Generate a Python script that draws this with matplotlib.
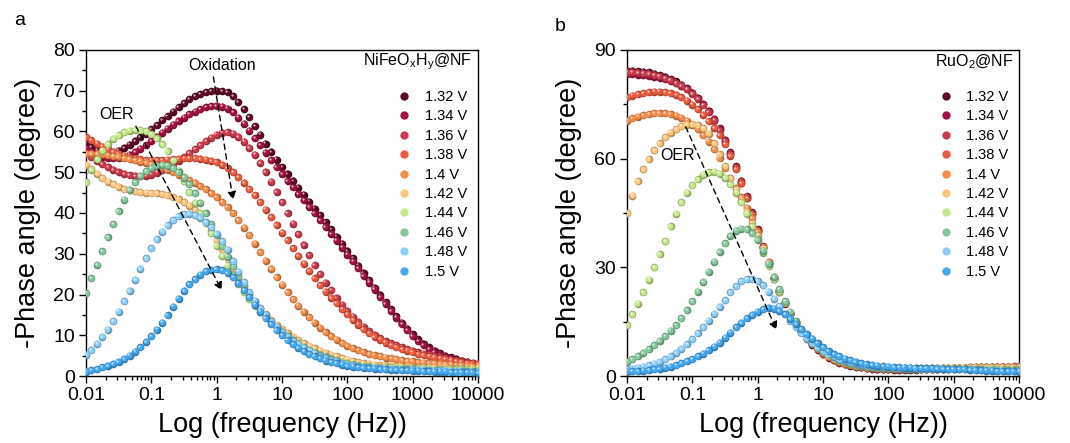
import matplotlib.pyplot as plt
import matplotlib.colors as mcolors
from matplotlib.lines import Line2D
from matplotlib.transforms import offset_copy
from matplotlib.ticker import MultipleLocator, LogLocator, NullFormatter, FixedLocator, FixedFormatter

plt.rcParams['font.family'] = ['Liberation Sans', 'DejaVu Sans']
plt.rcParams['mathtext.fontset'] = 'custom'
plt.rcParams['mathtext.rm'] = 'Liberation Sans'
plt.rcParams['mathtext.it'] = 'Liberation Sans:italic'

# measurement frequencies (Hz), 12 points per decade
freq = [0.01, 0.01212, 0.01468, 0.01778, 0.02154, 0.0261, 0.03162, 0.03831, 0.04642, 0.05623, 0.06813, 0.08254,
        0.1, 0.1212, 0.1468, 0.1778, 0.2154, 0.261, 0.3162, 0.3831, 0.4642, 0.5623, 0.6813, 0.8254,
        1, 1.212, 1.468, 1.778, 2.154, 2.61, 3.162, 3.831, 4.642, 5.623, 6.813, 8.254,
        10, 12.12, 14.68, 17.78, 21.54, 26.1, 31.62, 38.31, 46.42, 56.23, 68.13, 82.54,
        100, 121.2, 146.8, 177.8, 215.4, 261, 316.2, 383.1, 464.2, 562.3, 681.3, 825.4,
        1000, 1212, 1468, 1778, 2154, 2610, 3162, 3831, 4642, 5623, 6813, 8254,
        10000]

labels = ['1.32 V', '1.34 V', '1.36 V', '1.38 V', '1.4 V', '1.42 V', '1.44 V', '1.46 V', '1.48 V', '1.5 V']
colors = ['#5c0a22', '#a3123e', '#cc3a4e', '#ec5a40', '#f58c4c', '#fdc57e', '#c3e889', '#86c79b', '#8ccff8', '#45a8ef']

# ---- panel a: NiFeOxHy@NF ----
a_132 = [57.0, 56.2, 55.5, 55.0, 54.8, 54.9, 55.3, 56.0, 56.8, 57.7, 58.6, 59.5,
         60.5, 61.6, 62.7, 63.8, 64.9, 66.0, 67.0, 67.9, 68.6, 69.2, 69.6, 69.9,
         70.0, 69.9, 69.6, 68.6, 67.2, 65.5, 63.5, 61.3, 59.2, 57.0, 55.0, 53.1,
         51.3, 49.6, 47.9, 46.2, 44.5, 42.8, 41.1, 39.4, 37.7, 36.0, 34.2, 32.5,
         30.7, 28.9, 27.1, 25.3, 23.5, 21.7, 19.9, 18.1, 16.4, 14.7, 13.1, 11.6,
         10.2, 9.0, 7.9, 7.0, 6.2, 5.6, 5.0, 4.6, 4.2, 3.8, 3.5, 3.2,
         2.9]
a_134 = [55.8, 55.0, 54.3, 53.8, 53.5, 53.4, 53.5, 53.8, 54.3, 55.0, 55.8, 56.7,
         57.7, 58.7, 59.7, 60.7, 61.7, 62.6, 63.4, 64.2, 64.9, 65.5, 65.9, 66.2,
         66.3, 66.1, 65.6, 64.7, 63.4, 61.9, 60.2, 58.4, 56.6, 54.8, 53.0, 51.3,
         49.6, 47.9, 46.3, 44.7, 43.1, 41.5, 39.9, 38.3, 36.6, 34.9, 33.2, 31.5,
         29.8, 28.1, 26.4, 24.6, 22.9, 21.2, 19.4, 17.7, 16.0, 14.3, 12.7, 11.2,
         9.8, 8.6, 7.5, 6.6, 5.8, 5.2, 4.7, 4.3, 3.9, 3.6, 3.3, 3.0,
         2.7]
a_136 = [54.6, 53.7, 52.8, 52.0, 51.3, 50.6, 50.1, 49.6, 49.3, 49.1, 49.0, 49.1,
         49.4, 49.9, 50.5, 51.2, 52.0, 52.8, 53.7, 54.6, 55.6, 56.6, 57.6, 58.5,
         59.2, 59.7, 59.8, 59.5, 58.7, 57.5, 56.0, 54.3, 52.3, 50.1, 47.7, 45.2,
         42.6, 40.0, 37.4, 34.8, 32.2, 29.6, 27.2, 25.0, 22.9, 21.0, 19.2, 17.5,
         16.0, 14.6, 13.3, 12.1, 11.0, 10.1, 9.3, 8.6, 8.0, 7.5, 7.0, 6.6,
         6.2, 5.8, 5.5, 5.2, 4.9, 4.6, 4.4, 4.1, 3.9, 3.7, 3.4, 3.2,
         3.0]
a_138 = [58.6, 57.8, 57.0, 56.3, 55.6, 55.0, 54.5, 54.1, 53.7, 53.4, 53.2, 53.0,
         52.9, 52.9, 53.0, 53.1, 53.2, 53.3, 53.4, 53.4, 53.4, 53.3, 53.1, 52.8,
         52.4, 51.8, 51.0, 50.0, 48.8, 47.4, 45.9, 44.3, 42.6, 40.8, 39.0, 37.1,
         35.2, 33.3, 31.4, 29.5, 27.6, 25.8, 24.0, 22.3, 20.7, 19.2, 17.8, 16.4,
         15.1, 13.8, 12.6, 11.5, 10.5, 9.6, 8.9, 8.2, 7.6, 7.1, 6.6, 6.2,
         5.8, 5.4, 5.1, 4.8, 4.5, 4.3, 4.0, 3.8, 3.6, 3.4, 3.2, 3.0,
         2.8]
a_140 = [54.5, 54.5, 54.5, 54.4, 54.2, 54.0, 53.8, 53.5, 53.2, 52.9, 52.6, 52.3,
         52.0, 51.6, 51.1, 50.6, 50.0, 49.4, 48.8, 48.1, 47.4, 46.6, 45.8, 44.9,
         43.9, 42.7, 41.4, 39.9, 38.2, 36.4, 34.5, 32.5, 30.4, 28.3, 26.3, 24.3,
         22.4, 20.6, 18.9, 17.3, 15.8, 14.4, 13.1, 11.9, 10.8, 9.8, 8.9, 8.1,
         7.4, 6.8, 6.3, 5.8, 5.4, 5.1, 4.8, 4.5, 4.3, 4.1, 3.9, 3.7,
         3.6, 3.4, 3.3, 3.2, 3.1, 3.0, 2.9, 2.8, 2.7, 2.6, 2.5, 2.4,
         2.3]
a_142 = [51.8, 50.7, 49.6, 48.6, 47.7, 47.0, 46.4, 45.9, 45.6, 45.3, 45.1, 45.0,
         44.9, 44.8, 44.6, 44.3, 43.9, 43.4, 42.7, 41.8, 40.7, 39.3, 37.6, 35.6,
         33.4, 31.1, 28.7, 26.4, 24.2, 22.1, 20.1, 18.3, 16.7, 15.2, 13.8, 12.6,
         11.5, 10.5, 9.6, 8.8, 8.1, 7.4, 6.8, 6.2, 5.7, 5.2, 4.8, 4.4,
         4.0, 3.7, 3.4, 3.2, 3.0, 2.8, 2.7, 2.6, 2.5, 2.4, 2.3, 2.3,
         2.2, 2.2, 2.1, 2.1, 2.0, 2.0, 2.0, 1.9, 1.9, 1.9, 1.8, 1.8,
         1.8]
a_144 = [47.5, 50.6, 53.2, 55.3, 56.9, 58.2, 59.1, 59.8, 60.2, 60.4, 60.3, 60.0,
         59.3, 58.3, 56.9, 55.1, 52.9, 50.4, 47.8, 45.1, 42.5, 40.0, 37.5, 35.0,
         32.0, 29.5, 27.1, 24.8, 22.6, 20.6, 18.8, 17.2, 15.8, 14.4, 13.1, 11.9,
         10.8, 9.8, 8.9, 8.0, 7.2, 6.5, 5.9, 5.3, 4.8, 4.3, 3.9, 3.5,
         3.2, 2.9, 2.7, 2.5, 2.4, 2.3, 2.2, 2.1, 2.1, 2.0, 2.0, 1.9,
         1.9, 1.9, 1.8, 1.8, 1.8, 1.7, 1.7, 1.7, 1.6, 1.6, 1.6, 1.5,
         1.5]
a_146 = [20.3, 24.0, 27.3, 30.6, 34.0, 37.3, 40.5, 43.3, 45.7, 47.6, 49.1, 50.3,
         51.1, 51.6, 51.8, 51.6, 51.0, 50.0, 48.7, 47.0, 44.9, 42.5, 39.9, 37.2,
         34.5, 31.8, 29.3, 26.9, 24.5, 22.2, 20.1, 18.2, 16.5, 14.9, 13.4, 12.1,
         10.9, 9.8, 8.8, 7.9, 7.1, 6.4, 5.7, 5.1, 4.6, 4.1, 3.7, 3.3,
         3.0, 2.7, 2.5, 2.3, 2.1, 2.0, 1.9, 1.8, 1.7, 1.7, 1.6, 1.6,
         1.5, 1.5, 1.5, 1.4, 1.4, 1.4, 1.3, 1.3, 1.3, 1.3, 1.2, 1.2,
         1.2]
a_148 = [5.2, 6.4, 7.9, 9.6, 11.4, 13.5, 15.8, 18.3, 20.9, 23.6, 26.3, 28.9,
         31.3, 33.5, 35.4, 37.0, 38.3, 39.2, 39.7, 39.8, 39.5, 38.8, 37.8, 36.5,
         34.9, 33.1, 31.0, 28.2, 25.6, 23.0, 20.6, 18.5, 16.6, 15.0, 13.5, 12.1,
         10.8, 9.6, 8.6, 7.7, 6.9, 6.2, 5.5, 4.9, 4.4, 3.9, 3.5, 3.1,
         2.8, 2.6, 2.4, 2.2, 2.1, 2.0, 1.9, 1.8, 1.8, 1.7, 1.7, 1.6,
         1.6, 1.5, 1.5, 1.4, 1.4, 1.4, 1.3, 1.3, 1.3, 1.2, 1.2, 1.1,
         1.1]
a_150 = [1.1, 1.4, 1.7, 2.1, 2.5, 3.0, 3.5, 4.2, 5.0, 6.0, 7.1, 8.4,
         9.8, 11.4, 13.1, 14.9, 17.0, 19.0, 20.9, 22.5, 23.8, 24.9, 25.7, 26.1,
         26.2, 26.0, 25.3, 24.2, 22.8, 21.1, 19.3, 17.5, 15.8, 14.2, 12.7, 11.3,
         10.0, 8.8, 7.8, 6.9, 6.1, 5.4, 4.8, 4.3, 3.8, 3.4, 3.1, 2.8,
         2.5, 2.3, 2.1, 2.0, 1.9, 1.8, 1.7, 1.6, 1.5, 1.5, 1.4, 1.4,
         1.3, 1.3, 1.2, 1.2, 1.1, 1.1, 1.1, 1.0, 1.0, 1.0, 0.9, 0.9,
         0.8]

# ---- panel b: RuO2@NF ----
b_132 = [84.3, 84.3, 84.2, 84.0, 83.8, 83.5, 83.1, 82.6, 82.0, 81.3, 80.4, 79.4,
         78.2, 76.8, 75.1, 73.1, 70.8, 68.1, 64.8, 61.2, 57.4, 53.4, 49.2, 44.7,
         40.0, 35.4, 31.0, 26.9, 23.2, 19.9, 17.0, 14.4, 12.2, 10.3, 8.7, 7.3,
         6.1, 5.1, 4.3, 3.7, 3.2, 2.9, 2.6, 2.4, 2.2, 2.0, 1.9, 1.8,
         1.8, 1.7, 1.7, 1.7, 1.7, 1.7, 1.8, 1.8, 1.8, 1.9, 1.9, 2.0,
         2.0, 2.1, 2.1, 2.2, 2.2, 2.3, 2.3, 2.4, 2.4, 2.4, 2.5, 2.5,
         2.5]
b_134 = [83.3, 83.3, 83.2, 83.0, 82.8, 82.6, 82.3, 81.9, 81.4, 80.8, 80.0, 79.1,
         78.0, 76.7, 75.1, 73.2, 71.0, 68.4, 65.2, 61.7, 57.9, 53.9, 49.7, 45.2,
         40.5, 35.9, 31.4, 27.3, 23.5, 20.2, 17.2, 14.6, 12.4, 10.5, 8.9, 7.5,
         6.3, 5.3, 4.5, 3.9, 3.4, 3.0, 2.7, 2.5, 2.3, 2.1, 2.0, 1.9,
         1.9, 1.8, 1.8, 1.8, 1.8, 1.8, 1.9, 1.9, 1.9, 2.0, 2.0, 2.1,
         2.1, 2.2, 2.2, 2.3, 2.3, 2.4, 2.4, 2.5, 2.5, 2.5, 2.6, 2.6,
         2.6]
b_136 = [83.8, 83.8, 83.7, 83.6, 83.4, 83.1, 82.7, 82.2, 81.6, 80.9, 80.1, 79.1,
         77.9, 76.5, 74.8, 72.8, 70.5, 67.8, 64.7, 61.3, 57.6, 53.7, 49.5, 45.0,
         40.3, 35.7, 31.2, 27.1, 23.4, 20.1, 17.1, 14.5, 12.3, 10.4, 8.8, 7.4,
         6.2, 5.2, 4.4, 3.8, 3.3, 3.0, 2.7, 2.5, 2.3, 2.1, 2.0, 1.9,
         1.9, 1.8, 1.8, 1.8, 1.8, 1.9, 1.9, 1.9, 2.0, 2.0, 2.1, 2.1,
         2.2, 2.2, 2.3, 2.3, 2.4, 2.4, 2.5, 2.5, 2.6, 2.6, 2.6, 2.7,
         2.7]
b_138 = [77.0, 77.4, 77.8, 78.1, 78.3, 78.5, 78.5, 78.4, 78.1, 77.6, 76.9, 76.0,
         74.9, 73.6, 72.1, 70.4, 68.5, 66.5, 64.0, 60.8, 57.1, 53.2, 49.1, 44.7,
         40.1, 35.6, 31.2, 27.1, 23.4, 20.1, 17.1, 14.5, 12.3, 10.4, 8.8, 7.4,
         6.2, 5.2, 4.4, 3.8, 3.3, 3.0, 2.7, 2.5, 2.3, 2.2, 2.1, 2.0,
         2.0, 1.9, 1.9, 1.9, 1.9, 2.0, 2.0, 2.0, 2.1, 2.1, 2.1, 2.2,
         2.2, 2.3, 2.3, 2.4, 2.4, 2.4, 2.5, 2.5, 2.5, 2.6, 2.6, 2.6,
         2.6]
b_140 = [70.5, 71.1, 71.6, 72.0, 72.3, 72.5, 72.6, 72.5, 72.3, 71.9, 71.3, 70.5,
         69.4, 68.1, 66.5, 64.7, 62.6, 60.1, 57.4, 54.6, 51.9, 49.3, 46.5, 43.5,
         39.8, 35.6, 31.4, 27.4, 23.7, 20.4, 17.4, 14.8, 12.5, 10.6, 9.0, 7.6,
         6.4, 5.4, 4.6, 4.0, 3.5, 3.1, 2.8, 2.6, 2.4, 2.3, 2.2, 2.1,
         2.1, 2.0, 2.0, 2.0, 2.0, 2.0, 2.1, 2.1, 2.1, 2.2, 2.2, 2.2,
         2.3, 2.3, 2.3, 2.4, 2.4, 2.4, 2.5, 2.5, 2.5, 2.5, 2.6, 2.6,
         2.6]
b_142 = [44.9, 49.8, 53.8, 57.1, 59.9, 62.3, 64.3, 65.9, 67.2, 68.2, 68.9, 69.4,
         69.5, 69.2, 68.4, 66.9, 64.2, 61.2, 57.9, 54.6, 51.5, 48.4, 45.3, 42.2,
         38.9, 35.2, 31.3, 27.4, 23.8, 20.5, 17.5, 14.9, 12.6, 10.7, 9.1, 7.7,
         6.5, 5.5, 4.7, 4.1, 3.6, 3.2, 2.9, 2.7, 2.5, 2.4, 2.3, 2.2,
         2.2, 2.1, 2.1, 2.1, 2.1, 2.1, 2.1, 2.2, 2.2, 2.2, 2.2, 2.3,
         2.3, 2.3, 2.3, 2.4, 2.4, 2.4, 2.4, 2.5, 2.5, 2.5, 2.5, 2.5,
         2.5]
b_144 = [14.1, 17.0, 20.0, 23.2, 26.6, 30.1, 33.6, 37.2, 41.3, 44.8, 47.9, 50.6,
         52.7, 54.4, 55.6, 56.3, 56.4, 55.9, 54.7, 52.9, 50.6, 47.9, 44.8, 41.4,
         37.8, 34.0, 30.3, 26.7, 23.3, 20.2, 17.4, 14.9, 12.7, 10.8, 9.2, 7.8,
         6.7, 5.7, 4.9, 4.3, 3.8, 3.4, 3.1, 2.8, 2.6, 2.5, 2.4, 2.3,
         2.2, 2.2, 2.1, 2.1, 2.1, 2.1, 2.1, 2.1, 2.1, 2.1, 2.1, 2.1,
         2.1, 2.1, 2.1, 2.0, 2.0, 2.0, 2.0, 2.0, 1.9, 1.9, 1.9, 1.9,
         1.9]
b_146 = [4.0, 4.7, 5.5, 6.4, 7.4, 8.5, 9.7, 11.0, 12.5, 14.1, 16.0, 18.2,
         20.7, 23.3, 26.0, 28.8, 31.6, 34.3, 36.7, 38.7, 40.1, 40.7, 40.5, 39.5,
         37.6, 34.6, 31.0, 27.4, 23.9, 20.7, 17.8, 15.2, 13.0, 11.1, 9.5, 8.1,
         7.0, 6.0, 5.2, 4.5, 4.0, 3.6, 3.2, 2.9, 2.7, 2.5, 2.4, 2.3,
         2.2, 2.1, 2.1, 2.0, 2.0, 2.0, 2.0, 2.0, 1.9, 1.9, 1.9, 1.9,
         1.9, 1.8, 1.8, 1.8, 1.8, 1.8, 1.7, 1.7, 1.7, 1.7, 1.6, 1.6,
         1.6]
b_148 = [1.8, 2.0, 2.3, 2.6, 3.0, 3.4, 3.9, 4.6, 5.4, 6.4, 7.5, 8.8,
         10.2, 11.8, 13.5, 15.3, 17.2, 19.1, 21.0, 23.2, 24.8, 26.1, 26.8, 26.8,
         26.2, 25.0, 23.3, 21.3, 19.2, 17.1, 15.2, 13.4, 11.8, 10.3, 9.0, 7.9,
         6.9, 6.0, 5.3, 4.7, 4.2, 3.8, 3.4, 3.1, 2.9, 2.7, 2.6, 2.5,
         2.4, 2.3, 2.2, 2.2, 2.1, 2.1, 2.0, 2.0, 2.0, 1.9, 1.9, 1.9,
         1.8, 1.8, 1.8, 1.7, 1.7, 1.6, 1.6, 1.6, 1.5, 1.5, 1.4, 1.4,
         1.3]
b_150 = [1.2, 1.3, 1.4, 1.5, 1.6, 1.8, 2.0, 2.3, 2.6, 3.0, 3.5, 4.1,
         4.7, 5.4, 6.2, 7.1, 8.1, 9.2, 10.6, 12.0, 13.4, 14.7, 15.9, 16.9,
         17.8, 18.5, 18.8, 18.6, 18.0, 17.0, 15.8, 14.4, 13.0, 11.6, 10.3, 9.0,
         7.9, 6.9, 6.1, 5.4, 4.8, 4.3, 3.9, 3.6, 3.3, 3.1, 2.9, 2.7,
         2.6, 2.5, 2.4, 2.3, 2.3, 2.2, 2.2, 2.1, 2.1, 2.0, 2.0, 1.9,
         1.9, 1.8, 1.8, 1.7, 1.6, 1.6, 1.5, 1.5, 1.4, 1.4, 1.3, 1.3,
         1.2]

a_curves = [a_132, a_134, a_136, a_138, a_140, a_142, a_144, a_146, a_148, a_150]
b_curves = [b_132, b_134, b_136, b_138, b_140, b_142, b_144, b_146, b_148, b_150]


def darker(c, f=0.72):
    r, g, b = mcolors.to_rgb(c)
    return (r * f, g * f, b * f)


def draw_spheres(ax, fig, curves):
    # shaded ball markers: dark rim, body colour, small white highlight
    mid = offset_copy(ax.transData, fig=fig, x=-0.3, y=0.3, units='points')
    hi = offset_copy(ax.transData, fig=fig, x=-0.9, y=0.9, units='points')
    for i, vals in enumerate(curves):
        ax.plot(freq, vals, 'o', ms=5.5, color=darker(colors[i]), mew=0, zorder=3)
        ax.plot(freq, vals, 'o', ms=4.4, color=colors[i], mew=0, zorder=3, transform=mid)
        ax.plot(freq, vals, 'o', ms=1.6, color='white', alpha=0.7, mew=0, zorder=3, transform=hi)


def style_axes(ax, ymax, ystep, yminor):
    ax.set_xscale('log')
    ax.set_xlim(0.01, 10000)
    ax.set_ylim(0, ymax)
    ax.xaxis.set_major_locator(FixedLocator([0.01, 0.1, 1, 10, 100, 1000, 10000]))
    ax.xaxis.set_major_formatter(FixedFormatter(['0.01', '0.1', '1', '10', '100', '1000', '10000']))
    ax.xaxis.set_minor_locator(LogLocator(base=10, subs=range(2, 10), numticks=20))
    ax.xaxis.set_minor_formatter(NullFormatter())
    ax.yaxis.set_major_locator(MultipleLocator(ystep))
    ax.yaxis.set_minor_locator(MultipleLocator(yminor))
    ax.tick_params(which='both', direction='out', top=False, right=False, width=1)
    ax.tick_params(which='major', length=5, labelsize=14, pad=3)
    ax.tick_params(which='minor', length=3)
    for sp in ax.spines.values():
        sp.set_linewidth(1)
    ax.set_xlabel('Log (frequency (Hz))', fontsize=19.5, labelpad=6)
    ax.set_ylabel('-Phase angle (degree)', fontsize=19.5, labelpad=9)


def add_legend(ax, title, x_anchor, tpad):
    handles = [Line2D([], [], marker='o', ls='', ms=6, mew=0, color=c) for c in colors]
    ax.legend(handles, labels, loc='upper left', bbox_to_anchor=(x_anchor, 0.877),
              frameon=False, fontsize=10.5, handlelength=0.8, handletextpad=tpad,
              labelspacing=0.37, borderaxespad=0, borderpad=0)
    ax.text(0.985, 0.964, title, transform=ax.transAxes, ha='right', va='center', fontsize=11.5)


def dashed_arrow(ax, start, end):
    ax.annotate('', xy=end, xytext=start,
                arrowprops=dict(arrowstyle='-|>', color='black', lw=1,
                                linestyle=(0, (4, 3)), mutation_scale=12,
                                shrinkA=0, shrinkB=0), zorder=5)


fig = plt.figure(figsize=(10.7, 4.43), dpi=100)
ax_a = fig.add_axes([0.0804, 0.1512, 0.3664, 0.736])
ax_b = fig.add_axes([0.586, 0.1512, 0.3664, 0.736])

draw_spheres(ax_a, fig, a_curves)
style_axes(ax_a, 80, 10, 5)
add_legend(ax_a, r'NiFeO$_\mathregular{x}$H$_\mathregular{y}$@NF', 0.797, 1.05)
ax_a.text(1.2, 76.3, 'Oxidation', ha='center', va='center', fontsize=11.5)
ax_a.text(0.029, 64.2, 'OER', ha='center', va='center', fontsize=11.5)
dashed_arrow(ax_a, (0.89, 73.4), (1.78, 43.2))
dashed_arrow(ax_a, (0.058, 61.3), (1.2, 21.0))

draw_spheres(ax_b, fig, b_curves)
style_axes(ax_b, 90, 30, 15)
add_legend(ax_b, r'RuO$_\mathregular{2}$@NF', 0.800, 0.92)
ax_b.text(0.059, 61.0, 'OER', ha='center', va='center', fontsize=11.5)
dashed_arrow(ax_b, (0.079, 68.8), (1.95, 12.7))

fig.text(0.013, 0.953, 'a', fontsize=14, va='center')
fig.text(0.518, 0.94, 'b', fontsize=14, va='center')

fig.savefig('out.png', dpi=100)
